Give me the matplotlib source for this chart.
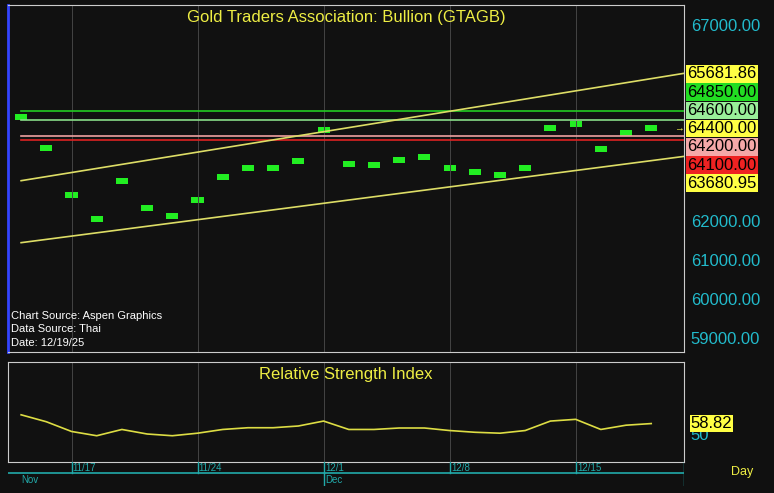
import matplotlib
matplotlib.use("Agg")
import matplotlib.pyplot as plt
import numpy as np

plt.rcParams['font.family'] = ['Liberation Sans', 'DejaVu Sans']

prices = [64694, 63900, 62696, 62077, 63061, 62365, 62168, 62569, 63163, 63393,
          63393, 63564, 64355, 63495, 63462, 63597, 63658, 63393, 63291, 63199,
          63393, 64398, 64500, 63862, 64278, 64400]
rsi = [65.4, 60.2, 52.9, 49.7, 54.4, 51.0, 49.7, 51.6, 54.4, 55.7, 55.7, 57.0, 60.7,
       54.4, 54.4, 55.5, 55.5, 53.6, 52.3, 51.6, 53.6, 60.7, 62.0, 54.4, 57.6, 58.82]
week_idx = [2, 7, 12, 17, 22]
week_labels = ['11/17', '11/24', '12/1', '12/8', '12/15']
hlines = [(64850, '#22cc22'), (64600, '#88dd88'), (64200, '#f0a0a0'), (64100, '#dd2222')]
upper = (63061, 65800)
lower = (61480, 63680.95)
upper_label = 65681.86
yticks = [67000, 62000, 61000, 60000, 59000]

W, H = 774, 493
fig = plt.figure(figsize=(W/100, H/100), dpi=100, facecolor='#101010')
def rect(l, t, r, b):
    return [l/W, 1-b/H, (r-l)/W, (b-t)/H]

x = np.arange(len(prices))
xl = (-0.52, 26.3)
ax = fig.add_axes(rect(8, 5, 684, 352))
ax.set_facecolor('#111111')
ax.set_xlim(*xl); ax.set_ylim(58691, 67543)
for s in ax.spines.values(): s.set_color('#cccccc')
ax.spines['left'].set_color('#3344ff'); ax.spines['left'].set_linewidth(2)
ax.tick_params(left=False, bottom=False, labelleft=False, labelbottom=False, right=False, labelright=False)
for w in week_idx:
    ax.axvline(w, color='#444444', lw=0.7)
for v, c in hlines:
    ax.plot([0, 26.3], [v, v], color=c, lw=1.2)
ax.plot([0, 26.3], list(upper), color='#dddd66', lw=1.2)
ax.plot([0, 26.3], list(lower), color='#dddd66', lw=1.2)
ax.bar(x, 150, bottom=np.array(prices)-75, width=0.48, color='#22ee22')
ax.text(0.5, 0.965, 'Gold Traders Association: Bullion (GTAGB)', transform=ax.transAxes,
        ha='center', va='center', color='#eeee44', fontsize=12)
for i, t in enumerate(['Chart Source: Aspen Graphics', 'Data Source: Thai', 'Date: 12/19/25']):
    ax.text(0.005, 0.105-i*0.04, t, transform=ax.transAxes, color='white', fontsize=8, va='center')
ax.annotate('→', (26.3, 64400), color='#eeee44', fontsize=7, ha='right', va='center')
for v in yticks:
    ax.text(1.01, v, f'{v:.2f}', transform=ax.get_yaxis_transform(), color='#22bbcc',
            fontsize=12, va='center', ha='left')
labels = [(upper_label, '#ffff44'), (64850, '#22dd22'), (64600, '#99ee99'), (64400, '#ffff44'),
          (64200, '#f4a8a8'), (64100, '#ee2222'), (lower[1], '#ffff44')]
for i, (v, c) in enumerate(labels):
    ypix = 74 + i * 18.2
    fig.text(687/W, 1 - ypix/H, f'{v:.2f}', color='black', fontsize=12, va='center', ha='left',
             bbox=dict(boxstyle='square,pad=0.08', fc=c, ec='none'))

ar = fig.add_axes(rect(8, 362, 684, 462))
ar.set_facecolor('#111111')
ar.set_xlim(*xl); ar.set_ylim(30, 105)
for s in ar.spines.values(): s.set_color('#cccccc')
ar.tick_params(left=False, bottom=False, labelleft=False, labelbottom=False)
for w in week_idx:
    ar.axvline(w, color='#444444', lw=0.7)
ar.plot(x, rsi, color='#dddd44', lw=1.2)
ar.text(0.5, 0.88, 'Relative Strength Index', transform=ar.transAxes, ha='center',
        va='center', color='#eeee44', fontsize=12)
ar.text(1.01, 50, '50', transform=ar.get_yaxis_transform(), color='#22bbcc', fontsize=12, va='center')
ar.text(1.01, rsi[-1], f'{rsi[-1]:.2f}', transform=ar.get_yaxis_transform(), color='black',
        fontsize=12, va='center', bbox=dict(boxstyle='square,pad=0.05', fc='#ffff44', ec='none'))

ad = fig.add_axes(rect(8, 462, 684, 486))
ad.set_facecolor('#101010'); ad.set_xlim(*xl); ad.set_ylim(0, 1)
ad.axis('off')
ad.axhline(0.55, color='#22aaaa', lw=1.2)
for w, l in zip(week_idx, week_labels):
    ad.plot([w, w], [0.55, 1], color='#22aaaa', lw=1)
    ad.text(w + 0.05, 0.75, l, color='#22aaaa', fontsize=7, va='center')
ad.plot([12, 12], [0, 0.55], color='#22aaaa', lw=1)
ad.plot([26.3, 26.3], [0, 1], color='#22aaaa', lw=1)
ad.text(0, 0.25, 'Nov', color='#22aaaa', fontsize=7, va='center')
ad.text(12.05, 0.25, 'Dec', color='#22aaaa', fontsize=7, va='center')
fig.text(742/W, 1-472/H, 'Day', color='#eeee44', fontsize=9, ha='center', va='center')
fig.savefig('out.png', dpi=100, facecolor=fig.get_facecolor())
